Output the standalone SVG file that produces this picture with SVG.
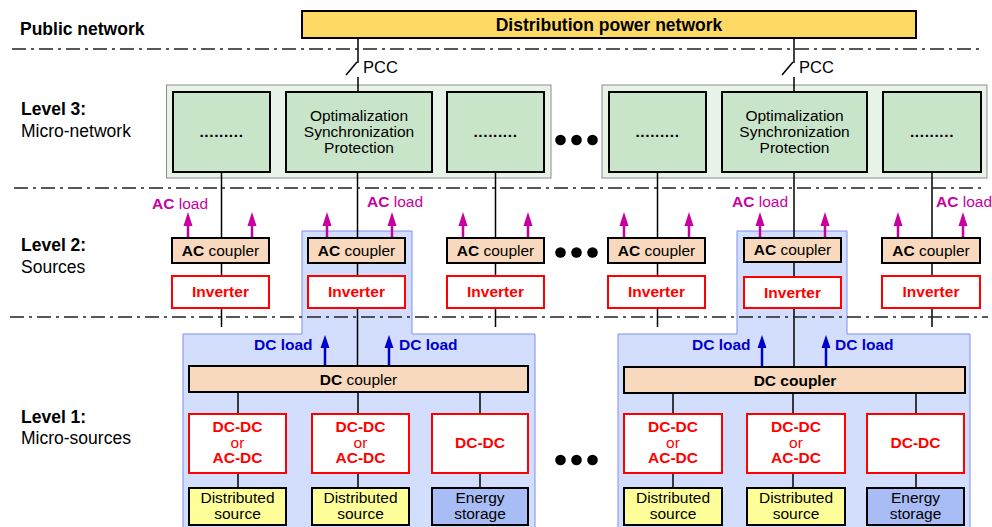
<svg xmlns="http://www.w3.org/2000/svg" width="992" height="527" viewBox="0 0 992 527">
<style>
text{font-family:"Liberation Sans",Arial,sans-serif;}
.lbl{font-size:17.5px;fill:#000;}
.b{font-weight:bold;}
.bt{font-size:15.5px;fill:#000;text-anchor:middle;}
.red{fill:#FF0000;font-weight:bold;}
.red.nb{font-weight:normal;}
.dots{font-weight:bold;letter-spacing:0.6px;}
.sep{stroke:#222;stroke-width:1.5;stroke-dasharray:14 5 3 5;fill:none;}
.wire{stroke:#000;stroke-width:1.5;fill:none;}
.outer{fill:#E8F3E8;stroke:#8C8C8C;stroke-width:1;}
.inner{fill:#C9E5C9;stroke:#000;stroke-width:2;}
.cpl{fill:#F9D9BD;stroke:#000;stroke-width:2;}
.inv{fill:#FFFFFF;stroke:#FF0000;stroke-width:2;}
.src{fill:#FFFF99;stroke:#000;stroke-width:2;}
.sto{fill:#A8BCF5;stroke:#000;stroke-width:2;}
.region{fill:#D3DEFC;stroke:#7F8FF0;stroke-width:1;}
.acl{font-size:15.5px;fill:#C800A0;}
.dcl{font-size:15.5px;fill:#0000CC;font-weight:bold;}
.acarrow line{stroke:#C800A0;stroke-width:2.5;}
.acarrow polygon{fill:#C800A0;}
.dcarrow line{stroke:#0000CC;stroke-width:2.5;}
.dcarrow polygon{fill:#0000CC;}
</style>

<!-- blue regions -->
<g id="region-left"><path class="region" d="M302,231 H412 V334 H535 V528 H183 V334 H302 Z"/></g>
<g id="region-right"><path class="region" d="M737,231 H847 V334 H970 V528 H618 V334 H737 Z"/></g>

<!-- level 3 containers -->
<g id="micro-network-left"><rect class="outer" x="166.5" y="85" width="384.5" height="93"/></g>
<g id="micro-network-right"><rect class="outer" x="602" y="85" width="385" height="93"/></g>

<!-- connectors -->
<g id="connectors">
  <!-- PCC left -->
  <line class="wire" x1="358" y1="38" x2="358" y2="63"/>
  <line class="wire" x1="357" y1="62" x2="346" y2="75"/>
  <line class="wire" x1="358" y1="77" x2="358" y2="92"/>
  <!-- PCC right -->
  <line class="wire" x1="794" y1="38" x2="794" y2="63"/>
  <line class="wire" x1="793" y1="62" x2="782" y2="75"/>
  <line class="wire" x1="794" y1="77" x2="794" y2="92"/>
  <!-- columns -->
  <line class="wire" x1="221.5" y1="172" x2="221.5" y2="327"/>
  <line class="wire" x1="357.5" y1="172" x2="357.5" y2="367"/>
  <line class="wire" x1="495.5" y1="172" x2="495.5" y2="327"/>
  <line class="wire" x1="657.5" y1="172" x2="657.5" y2="327"/>
  <line class="wire" x1="794" y1="172" x2="794" y2="368"/>
  <line class="wire" x1="932" y1="172" x2="932" y2="327"/>
  <!-- DC side left -->
  <line class="wire" x1="238" y1="392" x2="238" y2="489"/>
  <line class="wire" x1="358" y1="392" x2="358" y2="489"/>
  <line class="wire" x1="480" y1="392" x2="480" y2="489"/>
  <!-- DC side right -->
  <line class="wire" x1="673" y1="393" x2="673" y2="489"/>
  <line class="wire" x1="793" y1="393" x2="793" y2="489"/>
  <line class="wire" x1="916" y1="393" x2="916" y2="489"/>
  <!-- AC load arrows -->
  <g class="acarrow">
    <line x1="188" y1="238" x2="188" y2="224"/><polygon points="183.5,226 192.5,226 188,212"/>
    <line x1="252" y1="238" x2="252" y2="224"/><polygon points="247.5,226 256.5,226 252,212"/>
    <line x1="327" y1="238" x2="327" y2="224"/><polygon points="322.5,226 331.5,226 327,212"/>
    <line x1="392" y1="238" x2="392" y2="224"/><polygon points="387.5,226 396.5,226 392,212"/>
    <line x1="463" y1="238" x2="463" y2="224"/><polygon points="458.5,226 467.5,226 463,212"/>
    <line x1="528" y1="238" x2="528" y2="224"/><polygon points="523.5,226 532.5,226 528,212"/>
    <line x1="624" y1="238" x2="624" y2="224"/><polygon points="619.5,226 628.5,226 624,212"/>
    <line x1="689" y1="238" x2="689" y2="224"/><polygon points="684.5,226 693.5,226 689,212"/>
    <line x1="760" y1="238" x2="760" y2="224"/><polygon points="755.5,226 764.5,226 760,212"/>
    <line x1="825" y1="238" x2="825" y2="224"/><polygon points="820.5,226 829.5,226 825,212"/>
    <line x1="898" y1="238" x2="898" y2="224"/><polygon points="893.5,226 902.5,226 898,212"/>
    <line x1="963" y1="238" x2="963" y2="224"/><polygon points="958.5,226 967.5,226 963,212"/>
  </g>
  <!-- DC load arrows -->
  <g class="dcarrow">
    <line x1="325" y1="366" x2="325" y2="346"/><polygon points="320.5,348 329.5,348 325,335"/>
    <line x1="389" y1="366" x2="389" y2="346"/><polygon points="384.5,348 393.5,348 389,335"/>
    <line x1="762" y1="367" x2="762" y2="346"/><polygon points="757.5,348 766.5,348 762,335"/>
    <line x1="826" y1="367" x2="826" y2="346"/><polygon points="821.5,348 830.5,348 826,335"/>
  </g>
</g>

<!-- separators -->
<g id="separators">
  <line class="sep" x1="12" y1="49" x2="982" y2="49"/>
  <line class="sep" x1="14" y1="188" x2="985" y2="188"/>
  <line class="sep" x1="10" y1="317" x2="988" y2="317"/>
</g>

<!-- level labels -->
<g id="labels">
  <text class="lbl b" x="20" y="35">Public network</text>
  <text class="lbl b" x="21" y="115">Level 3:</text>
  <text class="lbl" x="21" y="137">Micro-network</text>
  <text class="lbl b" x="21" y="251">Level 2:</text>
  <text class="lbl" x="21" y="272.5">Sources</text>
  <text class="lbl b" x="21" y="422.5">Level 1:</text>
  <text class="lbl" x="21" y="444">Micro-sources</text>
</g>

<!-- distribution network -->
<g id="distribution">
  <rect x="302" y="11" width="614" height="27" fill="#FFD966" stroke="#000" stroke-width="2"/>
  <text class="b" x="609" y="31" font-size="17.5" text-anchor="middle">Distribution power network</text>
</g>
<g id="pcc-left"><text x="363" y="73" font-size="16.5">PCC</text></g>
<g id="pcc-right"><text x="799" y="73" font-size="16.5">PCC</text></g>

<!-- level 3 boxes -->
<g id="l3-box1"><rect class="inner" x="173" y="92" width="97" height="80"/><text class="bt dots" x="221.5" y="137">.........</text></g>
<g id="l3-box2"><rect class="inner" x="286" y="92" width="146" height="80"/>
  <text class="bt" x="359" y="120.5">Optimalization</text><text class="bt" x="359" y="136.5">Synchronization</text><text class="bt" x="359" y="152.5">Protection</text></g>
<g id="l3-box3"><rect class="inner" x="447" y="92" width="97" height="80"/><text class="bt dots" x="495.5" y="137">.........</text></g>
<g id="l3-box4"><rect class="inner" x="609" y="92" width="97" height="80"/><text class="bt dots" x="657.5" y="137">.........</text></g>
<g id="l3-box5"><rect class="inner" x="722" y="92" width="145" height="80"/>
  <text class="bt" x="794.5" y="120.5">Optimalization</text><text class="bt" x="794.5" y="136.5">Synchronization</text><text class="bt" x="794.5" y="152.5">Protection</text></g>
<g id="l3-box6"><rect class="inner" x="883" y="92" width="98" height="80"/><text class="bt dots" x="932" y="137">.........</text></g>

<!-- ellipses -->
<g id="dots-top"><circle cx="560.5" cy="140" r="5.3"/><circle cx="576.5" cy="140" r="5.3"/><circle cx="592.5" cy="140" r="5.3"/></g>
<g id="dots-mid"><circle cx="560.5" cy="252.5" r="5.3"/><circle cx="576.5" cy="252.5" r="5.3"/><circle cx="592.5" cy="252.5" r="5.3"/></g>
<g id="dots-bot"><circle cx="560.5" cy="460" r="5.3"/><circle cx="576.5" cy="460" r="5.3"/><circle cx="592.5" cy="460" r="5.3"/></g>

<!-- AC load labels -->
<g id="acload-labels">
  <text class="acl" x="152" y="209"><tspan font-weight="bold">AC</tspan> load</text>
  <text class="acl" x="367" y="207"><tspan font-weight="bold">AC</tspan> load</text>
  <text class="acl" x="732" y="207"><tspan font-weight="bold">AC</tspan> load</text>
  <text class="acl" x="936" y="207"><tspan font-weight="bold">AC</tspan> load</text>
</g>
<!-- DC load labels -->
<g id="dcload-labels">
  <text class="dcl" x="254" y="350">DC load</text>
  <text class="dcl" x="399" y="350">DC load</text>
  <text class="dcl" x="692" y="350">DC load</text>
  <text class="dcl" x="835" y="350">DC load</text>
</g>

<!-- level 2: AC couplers and inverters -->
<g id="ac-coupler-1"><rect class="cpl" x="172" y="238" width="97" height="25"/><text class="bt" x="220.5" y="255.5"><tspan font-weight="bold">AC</tspan> coupler</text></g>
<g id="ac-coupler-2"><rect class="cpl" x="308" y="238" width="97" height="25"/><text class="bt" x="356.5" y="255.5"><tspan font-weight="bold">AC</tspan> coupler</text></g>
<g id="ac-coupler-3"><rect class="cpl" x="447" y="238" width="97" height="25"/><text class="bt" x="495.5" y="255.5"><tspan font-weight="bold">AC</tspan> coupler</text></g>
<g id="ac-coupler-4"><rect class="cpl" x="608" y="238" width="97" height="25"/><text class="bt" x="656.5" y="255.5"><tspan font-weight="bold">AC</tspan> coupler</text></g>
<g id="ac-coupler-5"><rect class="cpl" x="744" y="238" width="97" height="24"/><text class="bt" x="792.5" y="255"><tspan font-weight="bold">AC</tspan> coupler</text></g>
<g id="ac-coupler-6"><rect class="cpl" x="882" y="238" width="98" height="25"/><text class="bt" x="931" y="255.5"><tspan font-weight="bold">AC</tspan> coupler</text></g>

<g id="inverter-1"><rect class="inv" x="172" y="276" width="97" height="32"/><text class="bt red" x="220.5" y="297">Inverter</text></g>
<g id="inverter-2"><rect class="inv" x="308" y="276" width="97" height="32"/><text class="bt red" x="356.5" y="297">Inverter</text></g>
<g id="inverter-3"><rect class="inv" x="447" y="276" width="97" height="32"/><text class="bt red" x="495.5" y="297">Inverter</text></g>
<g id="inverter-4"><rect class="inv" x="608" y="276" width="97" height="32"/><text class="bt red" x="656.5" y="297">Inverter</text></g>
<g id="inverter-5"><rect class="inv" x="744" y="277" width="97" height="31"/><text class="bt red" x="792.5" y="297.5">Inverter</text></g>
<g id="inverter-6"><rect class="inv" x="882" y="276" width="98" height="32"/><text class="bt red" x="931" y="297">Inverter</text></g>

<!-- level 1 -->
<g id="dc-coupler-left"><rect class="cpl" x="189" y="366" width="339" height="26"/><text class="bt" x="358.5" y="384.5"><tspan font-weight="bold">DC</tspan> coupler</text></g>
<g id="dc-coupler-right"><rect class="cpl" x="624" y="367" width="341" height="26"/><text class="bt b" x="795" y="385.5">DC coupler</text></g>

<g id="conv-l1"><rect class="inv" x="189" y="414" width="97" height="59"/><text class="bt red" x="237.5" y="432">DC-DC</text><text class="bt red nb" x="237.5" y="447.5">or</text><text class="bt red" x="237.5" y="463">AC-DC</text></g>
<g id="conv-l2"><rect class="inv" x="312" y="414" width="97" height="59"/><text class="bt red" x="360.5" y="432">DC-DC</text><text class="bt red nb" x="360.5" y="447.5">or</text><text class="bt red" x="360.5" y="463">AC-DC</text></g>
<g id="conv-l3"><rect class="inv" x="432" y="414" width="96" height="59"/><text class="bt red" x="480" y="447.5">DC-DC</text></g>
<g id="conv-r1"><rect class="inv" x="624" y="414" width="98" height="59"/><text class="bt red" x="673" y="432">DC-DC</text><text class="bt red nb" x="673" y="447.5">or</text><text class="bt red" x="673" y="463">AC-DC</text></g>
<g id="conv-r2"><rect class="inv" x="747" y="414" width="98" height="59"/><text class="bt red" x="796" y="432">DC-DC</text><text class="bt red nb" x="796" y="447.5">or</text><text class="bt red" x="796" y="463">AC-DC</text></g>
<g id="conv-r3"><rect class="inv" x="867" y="414" width="97" height="59"/><text class="bt red" x="915.5" y="447.5">DC-DC</text></g>

<g id="src-l1"><rect class="src" x="189" y="488" width="97" height="37"/><text class="bt" x="237.5" y="502.5">Distributed</text><text class="bt" x="237.5" y="518.5">source</text></g>
<g id="src-l2"><rect class="src" x="312" y="488" width="97" height="37"/><text class="bt" x="360.5" y="502.5">Distributed</text><text class="bt" x="360.5" y="518.5">source</text></g>
<g id="sto-l3"><rect class="sto" x="432" y="488" width="96" height="37"/><text class="bt" x="480" y="502.5">Energy</text><text class="bt" x="480" y="518.5">storage</text></g>
<g id="src-r1"><rect class="src" x="624" y="488" width="98" height="37"/><text class="bt" x="673" y="502.5">Distributed</text><text class="bt" x="673" y="518.5">source</text></g>
<g id="src-r2"><rect class="src" x="747" y="488" width="98" height="37"/><text class="bt" x="796" y="502.5">Distributed</text><text class="bt" x="796" y="518.5">source</text></g>
<g id="sto-r3"><rect class="sto" x="867" y="488" width="97" height="37"/><text class="bt" x="915.5" y="502.5">Energy</text><text class="bt" x="915.5" y="518.5">storage</text></g>
</svg>
